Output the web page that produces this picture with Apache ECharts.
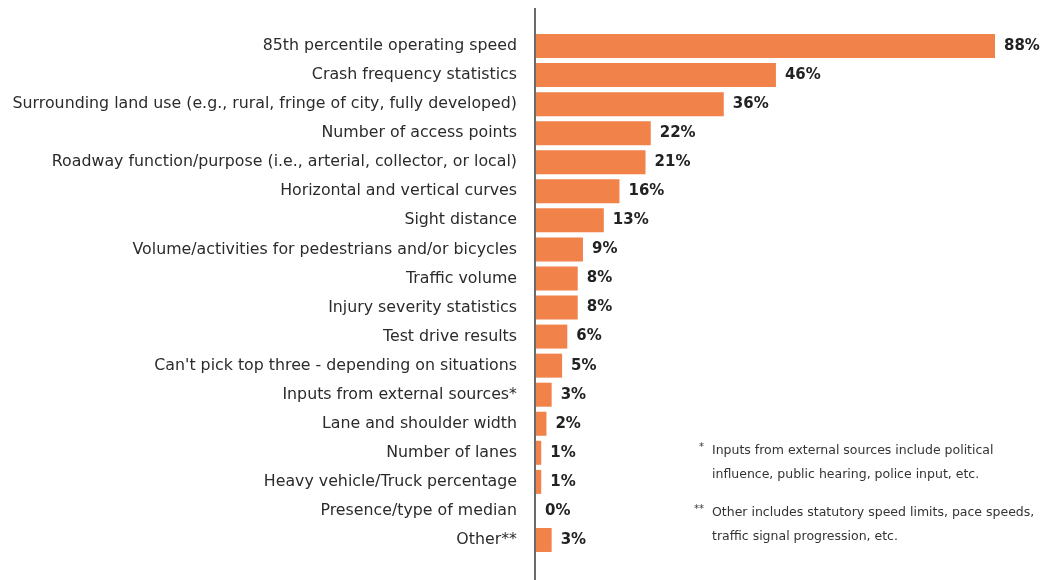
<!DOCTYPE html>
<html><head><meta charset="utf-8">
<script src="https://cdn.jsdelivr.net/npm/echarts@6/dist/echarts.min.js"></script>
<style>html,body{margin:0;padding:0;background:#fff}#c{width:1041px;height:580px}</style>
</head><body><div id="c"></div>
<script>
const categories = [
  "85th percentile operating speed",
  "Crash frequency statistics",
  "Surrounding land use (e.g., rural, fringe of city, fully developed)",
  "Number of access points",
  "Roadway function/purpose (i.e., arterial, collector, or local)",
  "Horizontal and vertical curves",
  "Sight distance",
  "Volume/activities for pedestrians and/or bicycles",
  "Traffic volume",
  "Injury severity statistics",
  "Test drive results",
  "Can't pick top three - depending on situations",
  "Inputs from external sources*",
  "Lane and shoulder width",
  "Number of lanes",
  "Heavy vehicle/Truck percentage",
  "Presence/type of median",
  "Other**"
];
const values = [88, 46, 36, 22, 21, 16, 13, 9, 8, 8, 6, 5, 3, 2, 1, 1, 0, 3];
const footnotes = [
  ["*", "Inputs from external sources include political", "influence, public hearing, police input, etc."],
  ["**", "Other includes statutory speed limits, pace speeds,", "traffic signal progression, etc."]
];

const FONT = "'DejaVu Sans', sans-serif";
const chart = echarts.init(document.getElementById('c'));
const gridLeft = 536, gridTop = 31.5, gridBottom = 25.5;

const graphics = [
  {type:'line', shape:{x1:535, y1:8, x2:535, y2:580}, style:{stroke:'#6b6b6b', lineWidth:2}}
];
footnotes.forEach((f, i) => {
  const y0 = 451 + i * 62;
  graphics.push({type:'text', x: 704, y: y0 - 4, style:{text:f[0], align:'right', verticalAlign:'middle', font:'10px ' + FONT, fill:'#333'}});
  graphics.push({type:'text', x: 712, y: y0, style:{text:f[1], verticalAlign:'middle', font:'12.5px ' + FONT, fill:'#333'}});
  graphics.push({type:'text', x: 712, y: y0 + 24, style:{text:f[2], verticalAlign:'middle', font:'12.5px ' + FONT, fill:'#333'}});
});

chart.setOption({
  animation:false,
  grid:{left:gridLeft, right:46, top:gridTop, bottom:gridBottom, containLabel:false},
  xAxis:{type:'value', min:0, max:88, show:false},
  yAxis:{type:'category', data:categories, inverse:true,
    axisLine:{show:false}, axisTick:{show:false},
    axisLabel:{margin:19, color:'#2b2b2b', fontSize:15.8, fontFamily:FONT}},
  series:[{type:'bar', data:values, barWidth:24,
    itemStyle:{color:'#f0824a'},
    label:{show:true, position:'right', distance:9, formatter:'{c}%',
      color:'#222', fontSize:15, fontWeight:'bold', fontFamily:FONT}}],
  graphic: graphics
});
</script></body></html>
